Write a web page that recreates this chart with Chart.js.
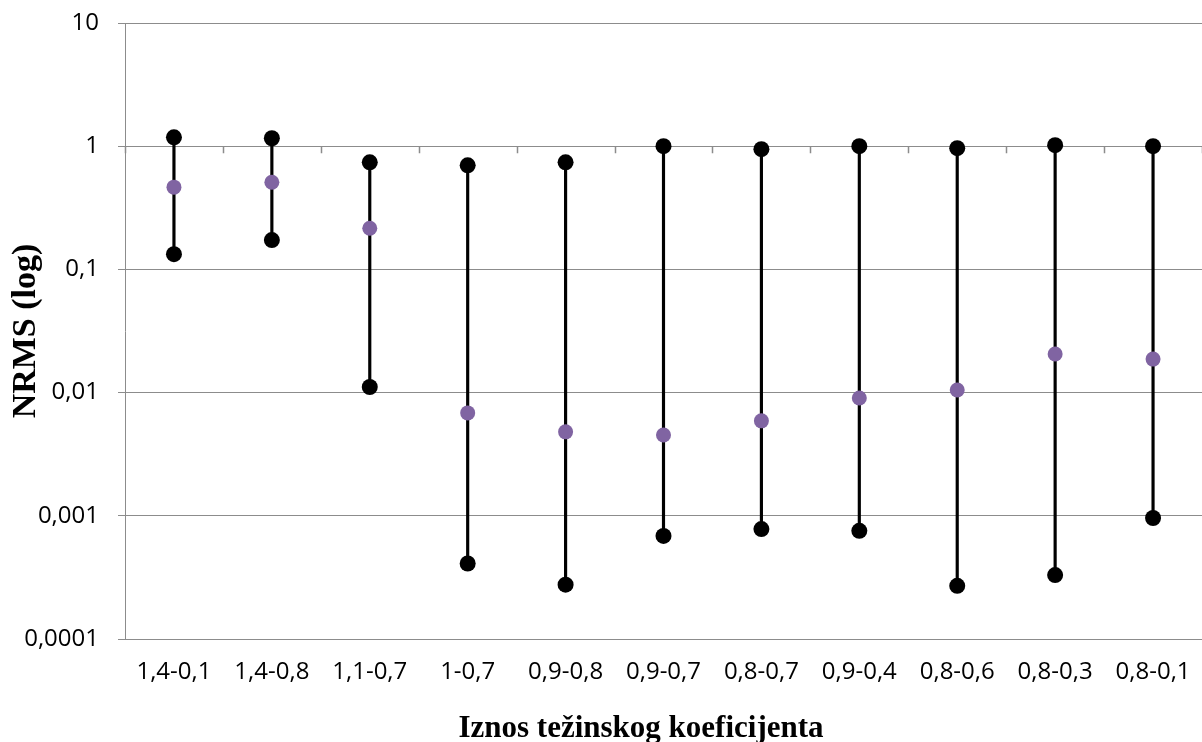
<!DOCTYPE html>
<html>
<head>
<meta charset="utf-8">
<script src="https://cdn.jsdelivr.net/npm/chart.js@4"></script>
<style>
    html, body { margin: 0; padding: 0; background: #fff; overflow: hidden; }
    #wrap { position: absolute; left: 0; top: 0; width: 1210px; height: 742px; }
    #xTitle {
        position: absolute; left: 0; top: 711px; width: 1282px; text-align: center;
        font: bold 31px "Liberation Serif", serif; line-height: 31px; color: #000;
    }
</style>
</head>
<body>
<div id="wrap"><canvas id="nrmsChart"></canvas></div>
<div id="xTitle">Iznos težinskog koeficijenta</div>
<script>
const categories = ['1,4-0,1', '1,4-0,8', '1,1-0,7', '1-0,7', '0,9-0,8', '0,9-0,7', '0,8-0,7', '0,9-0,4', '0,8-0,6', '0,8-0,3', '0,8-0,1'];
const maxValues = [1.18, 1.16, 0.74, 0.70, 0.74, 1.0, 0.946, 1.0, 0.963, 1.02, 1.0];
const meanValues = [0.465, 0.51, 0.216, 0.00684, 0.0048, 0.00453, 0.0059, 0.00904, 0.0105, 0.0206, 0.0187];
const minValues = [0.133, 0.173, 0.0111, 0.00041, 0.000276, 0.000687, 0.00078, 0.000755, 0.00027, 0.00033, 0.00096];
const yTickValues = [0.0001, 0.001, 0.01, 0.1, 1, 10];
const yTickLabels = ['0,0001', '0,001', '0,01', '0,1', '1', '10'];

const gridColor = '#8c8c8c';

// small tick marks hanging from the y=1 line, where Excel crosses the category axis
const crossTicks = {
    id: 'crossTicks',
    beforeDatasetsDraw(chart) {
        const x = chart.scales.x;
        const y = chart.scales.y;
        const ctx = chart.ctx;
        const yPix = y.getPixelForValue(1);
        const step = x.width / categories.length;
        ctx.save();
        ctx.strokeStyle = gridColor;
        ctx.lineWidth = 1.5;
        ctx.beginPath();
        for (let i = 0; i <= categories.length; i++) {
            const px = Math.round(x.left + i * step) + 0.5;
            ctx.moveTo(px, yPix);
            ctx.lineTo(px, yPix + 7);
        }
        ctx.stroke();
        ctx.restore();
    }
};

new Chart(document.getElementById('nrmsChart'), {
    type: 'bar',
    data: {
        labels: categories,
        datasets: [
            {
                label: 'Raspon',
                data: categories.map((c, i) => [minValues[i], maxValues[i]]),
                backgroundColor: '#000',
                barThickness: 2.5,
                order: 3
            },
            {
                type: 'line',
                label: 'Max',
                data: maxValues,
                showLine: false,
                pointRadius: 8,
                pointBackgroundColor: '#000',
                pointBorderWidth: 0,
                order: 2
            },
            {
                type: 'line',
                label: 'Min',
                data: minValues,
                showLine: false,
                pointRadius: 8,
                pointBackgroundColor: '#000',
                pointBorderWidth: 0,
                order: 2
            },
            {
                type: 'line',
                label: 'Srednja',
                data: meanValues,
                showLine: false,
                pointRadius: 7.5,
                pointBackgroundColor: '#8064a2',
                pointBorderWidth: 0,
                order: 1
            }
        ]
    },
    options: {
        responsive: true,
        maintainAspectRatio: false,
        animation: false,
        layout: { padding: { top: 23, right: 0, left: 0, bottom: 0 } },
        plugins: {
            legend: { display: false },
            tooltip: { enabled: false }
        },
        scales: {
            x: {
                offset: true,
                grid: { display: false, drawTicks: false },
                border: { display: true, color: gridColor, width: 1 },
                ticks: {
                    color: '#000',
                    padding: 19,
                    maxRotation: 0,
                    autoSkip: false,
                    font: { family: 'Open Sans', size: 24 }
                },
                afterFit(scale) {
                    scale.height = 103;
                    scale.paddingLeft = 0;
                    scale.paddingRight = 0;
                }
            },
            y: {
                type: 'logarithmic',
                min: 0.0001,
                max: 10,
                afterBuildTicks(scale) {
                    scale.ticks = yTickValues.map(v => ({ value: v }));
                },
                grid: { color: gridColor, tickLength: 7, drawTicks: true },
                border: { display: true, color: gridColor, width: 1 },
                ticks: {
                    color: '#000',
                    padding: 19,
                    font: { family: 'Open Sans', size: 24 },
                    callback(value) {
                        const idx = yTickValues.indexOf(value);
                        return idx >= 0 ? yTickLabels[idx] : '';
                    }
                },
                title: {
                    display: true,
                    text: 'NRMS (log)',
                    color: '#000',
                    padding: { top: 6, bottom: 0 },
                    font: { family: 'Liberation Serif', size: 34, weight: 'bold' }
                },
                afterFit(scale) {
                    scale.width = 125;
                    scale.paddingTop = 0;
                    scale.paddingBottom = 0;
                }
            }
        }
    },
    plugins: [crossTicks]
});
</script>
</body>
</html>
